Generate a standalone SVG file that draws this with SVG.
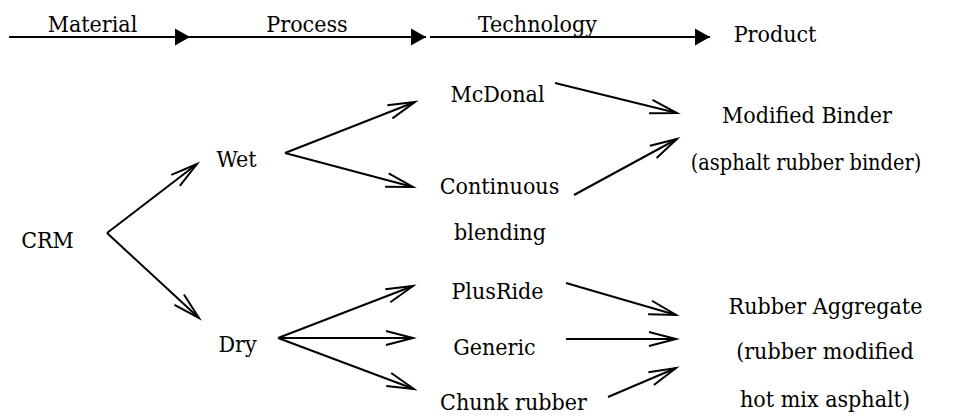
<svg xmlns="http://www.w3.org/2000/svg" width="957" height="416" viewBox="0 0 957 416" font-family="DejaVu Serif, serif">
<style>
text{font-family:'DejaVu Serif Condensed','DejaVu Serif',serif;font-stretch:condensed;font-size:23px;fill:#000;text-anchor:middle}
.c{stroke:#000;stroke-width:2;fill:none;marker-end:url(#open)}
.ax{stroke:#000;stroke-width:2.2;fill:none;marker-end:url(#solid)}
</style>
<defs>
<marker id="open" markerUnits="userSpaceOnUse" markerWidth="40" markerHeight="30" viewBox="-30 -15 40 30" refX="0" refY="0" orient="auto" overflow="visible">
<path d="M-27,-7 L0,0 L-27,7" fill="none" stroke="#000" stroke-width="2"/>
</marker>
<marker id="solid" markerUnits="userSpaceOnUse" markerWidth="20" markerHeight="20" viewBox="-16 -10 20 20" refX="0" refY="0" orient="auto" overflow="visible">
<path d="M-15,-8.5 L0,0 L-15,8.5 Z" fill="#000"/>
</marker>
</defs>
<g id="axis">
<line class="ax" x1="9" y1="37" x2="190" y2="37"/>
<line class="ax" x1="190" y1="37" x2="426" y2="37"/>
<line class="ax" x1="430" y1="37" x2="710" y2="37"/>
<text x="92.5" y="32">Material</text>
<text x="307" y="32">Process</text>
<text x="537.5" y="32">Technology</text>
<text x="775" y="42">Product</text>
</g>
<g id="connectors">
<line class="c" x1="107" y1="233" x2="197" y2="164"/>
<line class="c" x1="107" y1="233" x2="199" y2="318"/>
<line class="c" x1="285" y1="153" x2="415" y2="102"/>
<line class="c" x1="285" y1="153" x2="413" y2="187"/>
<line class="c" x1="555" y1="83" x2="677" y2="113"/>
<line class="c" x1="574" y1="195" x2="677" y2="139"/>
<line class="c" x1="278" y1="338" x2="413" y2="286"/>
<line class="c" x1="278" y1="338" x2="413" y2="338"/>
<line class="c" x1="278" y1="338" x2="414" y2="389"/>
<line class="c" x1="566" y1="283" x2="676" y2="315"/>
<line class="c" x1="566" y1="339" x2="676" y2="339"/>
<line class="c" x1="608" y1="397" x2="676" y2="368"/>
</g>
<g id="crm"><text x="47.5" y="248">CRM</text></g>
<g id="wet"><text x="236.5" y="167">Wet</text></g>
<g id="dry"><text x="237.5" y="352">Dry</text></g>
<g id="mcdonal"><text x="497.5" y="102">McDonal</text></g>
<g id="continuous"><text x="499.5" y="194">Continuous</text><text x="500" y="240">blending</text></g>
<g id="plusride"><text x="497.5" y="299">PlusRide</text></g>
<g id="generic"><text x="494.5" y="355">Generic</text></g>
<g id="chunk"><text x="513.5" y="410">Chunk rubber</text></g>
<g id="binder"><text x="807" y="123">Modified Binder</text><text x="806" y="170" style="font-size:21.5px">(asphalt rubber binder)</text></g>
<g id="aggregate"><text x="825.5" y="314">Rubber Aggregate</text><text x="825" y="359">(rubber modified</text><text x="825" y="407">hot mix asphalt)</text></g>
</svg>
